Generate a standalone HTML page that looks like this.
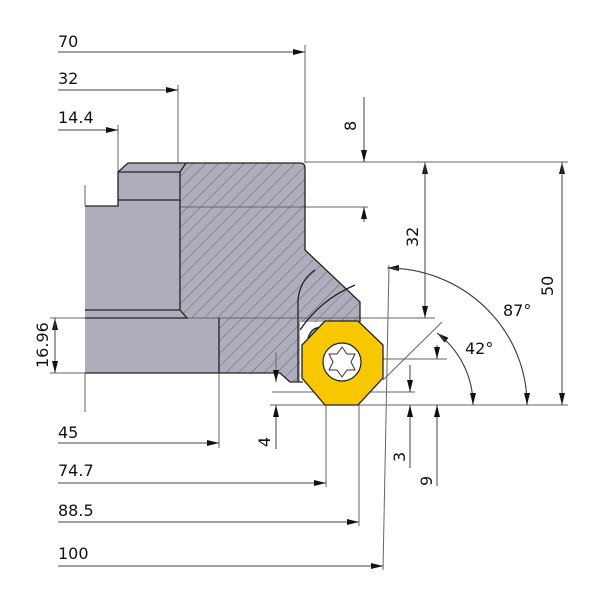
<!DOCTYPE html>
<html><head><meta charset="utf-8"><style>
html,body{margin:0;padding:0;background:#fff}
svg{display:block}
text{font-family:"DejaVu Sans","Liberation Sans",sans-serif;font-size:16px;fill:#111}
</style></head><body>
<svg width="600" height="600" viewBox="0 0 600 600" xmlns="http://www.w3.org/2000/svg">
<defs>
<pattern id="h" patternUnits="userSpaceOnUse" width="9" height="9" patternTransform="rotate(45)">
<rect width="9" height="9" fill="#aeadbb"/>
<line x1="0" y1="0" x2="0" y2="9" stroke="#555" stroke-width="0.8"/>
</pattern>
<marker id="a" markerWidth="12" markerHeight="6" refX="12" refY="3" orient="auto" markerUnits="userSpaceOnUse">
<path d="M0,0 L12,3 L0,6 Z" fill="#111"/>
</marker>
</defs>
<!-- body -->
<path d="M85,206 H118 V172 L128,163 H300 Q305,163 305,168 V250 L360,302 V322 H300 V382 H290 L280,373 H85 Z" fill="#aeadbb"/>
<path d="M180,163 H300 Q305,163 305,168 V250 L360,302 V322 H300 V382 H290 L280,373 H219 V318 H187 L180,310 Z" fill="url(#h)"/>
<g stroke="#666" stroke-width="1" fill="none">
<line x1="305" y1="45" x2="305" y2="163"/>
<line x1="178" y1="85" x2="178" y2="163"/>
<line x1="118" y1="125" x2="118" y2="172"/>
<line x1="305" y1="162" x2="568" y2="162"/>
<line x1="180" y1="207" x2="368" y2="207"/>
<line x1="50" y1="318" x2="435" y2="318"/>
<line x1="50" y1="373" x2="85" y2="373"/>
<line x1="85" y1="185" x2="85" y2="206"/>
<line x1="85" y1="373" x2="85" y2="412"/>
<line x1="219" y1="373" x2="219" y2="448"/>
<line x1="270" y1="405" x2="568" y2="405"/>
<line x1="272" y1="392" x2="415" y2="392"/>
<line x1="383" y1="359" x2="447" y2="359"/>
<line x1="326" y1="405" x2="326" y2="487"/>
<line x1="359" y1="405" x2="359" y2="526"/>
<line x1="383" y1="570" x2="389" y2="265"/>
<line x1="383" y1="380" x2="442" y2="322"/>
<line x1="276" y1="352" x2="276" y2="373"/>
</g>
<g stroke="#222" stroke-width="1.3" fill="none">
<path d="M85,206 H118 V172 L128,163 H300 Q305,163 305,168 V250 L360,302 V322"/>
<path d="M118,172 H180 L186,163"/>
<path d="M118,200 H180"/>
<path d="M180,172 V310 L187,318 H85"/>
<path d="M85,310 H180"/>
<path d="M219,318 V373 H280 L290,382 H303"/>
<path d="M85,373 H219"/>
<path d="M298,382 V300 Q300,280 315,270"/>
<path d="M300,330 Q320,300 355,285"/>
<path d="M308,338 Q312,326 322,328" fill="#aeadbb"/>
</g>
<!-- insert -->
<polygon points="325,321 358,321 383,345 383,378 358,405 325,405 302,378 302,345" fill="#f7c800" stroke="#222" stroke-width="1.3"/>
<circle cx="342" cy="362" r="19" fill="#fff" stroke="#222" stroke-width="1.2"/>
<path d="M342,347 L347,354 L355,354 L351,362 L355,370 L347,370 L342,377 L337,370 L329,370 L333,362 L329,354 L337,354 Z" fill="#fff" stroke="#333" stroke-width="1" stroke-linejoin="round"/>
<!-- dimension lines -->
<g stroke="#444" stroke-width="1" fill="none">
<line x1="58" y1="52" x2="305" y2="52" marker-end="url(#a)"/>
<line x1="58" y1="90" x2="178" y2="90" marker-end="url(#a)"/>
<line x1="58" y1="130" x2="118" y2="130" marker-end="url(#a)"/>
<line x1="58" y1="443" x2="219" y2="443" marker-end="url(#a)"/>
<line x1="58" y1="483" x2="326" y2="483" marker-end="url(#a)"/>
<line x1="58" y1="522" x2="359" y2="522" marker-end="url(#a)"/>
<line x1="58" y1="566" x2="383" y2="566" marker-end="url(#a)"/>
<line x1="364" y1="97" x2="364" y2="162" marker-end="url(#a)"/>
<line x1="364" y1="222" x2="364" y2="207" marker-end="url(#a)"/>
<line x1="425" y1="318" x2="425" y2="162" marker-end="url(#a)"/>
<line x1="425" y1="162" x2="425" y2="318" marker-end="url(#a)"/>
<line x1="562" y1="405" x2="562" y2="162" marker-end="url(#a)"/>
<line x1="562" y1="162" x2="562" y2="405" marker-end="url(#a)"/>
<line x1="55" y1="373" x2="55" y2="318" marker-end="url(#a)"/>
<line x1="55" y1="318" x2="55" y2="373" marker-end="url(#a)"/>
<line x1="276" y1="370" x2="276" y2="382" marker-end="url(#a)"/>
<line x1="276" y1="449" x2="276" y2="405" marker-end="url(#a)"/>
<line x1="410" y1="365" x2="410" y2="392" marker-end="url(#a)"/>
<line x1="410" y1="468" x2="410" y2="405" marker-end="url(#a)"/>
<line x1="437" y1="345" x2="437" y2="359" marker-end="url(#a)"/>
<line x1="437" y1="486" x2="437" y2="405" marker-end="url(#a)"/>
<path d="M527,405 A140,137 0 0 0 387,268" marker-end="url(#a)"/>
<path d="M387,268 A140,137 0 0 1 527,405" marker-end="url(#a)"/>
<path d="M473,405 A90,90 0 0 0 437,333" marker-end="url(#a)"/>
<path d="M437,333 A90,90 0 0 1 473,405" marker-end="url(#a)"/>
</g>
<!-- labels -->
<text x="58" y="47">70</text>
<text x="58" y="84">32</text>
<text x="58" y="123">14.4</text>
<text x="58" y="438">45</text>
<text x="58" y="476">74.7</text>
<text x="58" y="516">88.5</text>
<text x="58" y="559">100</text>
<text x="503" y="316">87°</text>
<text x="465" y="354">42°</text>
<text transform="translate(356,131) rotate(-90)">8</text>
<text transform="translate(418,247) rotate(-90)">32</text>
<text transform="translate(553,296) rotate(-90)">50</text>
<text transform="translate(48,368) rotate(-90)">16.96</text>
<text transform="translate(270,447) rotate(-90)">4</text>
<text transform="translate(405,462) rotate(-90)">3</text>
<text transform="translate(432,486) rotate(-90)">9</text>
</svg>
</body></html>
